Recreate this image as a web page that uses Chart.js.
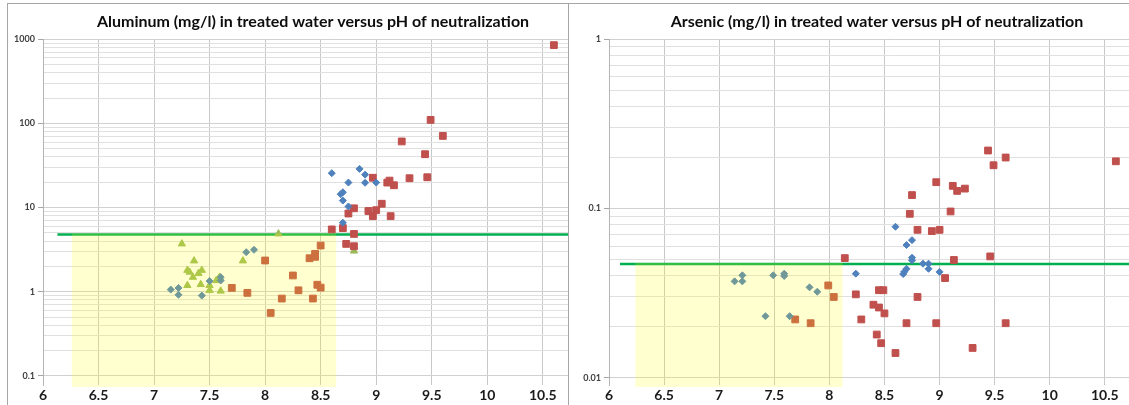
<!DOCTYPE html>
<html>
<head>
<meta charset="utf-8">
<script src="https://cdn.jsdelivr.net/npm/chart.js@4.4.1/dist/chart.umd.min.js"></script>
<style>
  html, body { margin: 0; overflow: hidden; background: #fff; }
  body { width: 1129px; height: 405px; position: relative; }
  .panel { position: absolute; top: 3px; height: 420px; border: 1px solid #a6a6a6; overflow: hidden; background: #fff; }
  #alPanel { left: 7px; width: 560px; }
  #asPanel { left: 568px; width: 620px; }
  canvas { position: absolute; left: 0; top: 0; }
</style>
</head>
<body>
<div class="panel" id="alPanel"><canvas id="alChart" width="610" height="401"></canvas></div>
<div class="panel" id="asPanel"><canvas id="asChart" width="616" height="401"></canvas></div>
<script>
// Aluminum (mg/l) vs pH
const alDiamondPH = [7.15, 7.22, 7.22, 7.43, 7.50, 7.60, 7.60, 7.83, 7.90,
    8.60, 8.85, 8.90, 8.75, 8.90, 9.00, 8.68, 8.70, 8.70, 8.75, 8.70];
const alDiamondMg = [1.06, 1.11, 0.92, 0.90, 1.34, 1.49, 1.36, 2.95, 3.15,
    25.6, 28.8, 24.6, 19.8, 19.7, 19.8, 14.4, 15.2, 12.1, 10.3, 6.6];

const alSquarePH = [8.00, 7.70, 7.84, 8.05, 8.15, 8.25, 8.30, 8.40, 8.45, 8.45, 8.50, 8.43, 8.47, 8.50,
    8.60, 8.70, 8.73, 8.80, 8.80, 8.75, 8.80, 8.93, 8.97, 9.00, 9.05, 8.97, 9.10, 9.12, 9.16,
    9.13, 9.23, 9.30, 9.44, 9.46, 9.49, 9.60, 10.60];
const alSquareMg = [2.35, 1.11, 0.97, 0.56, 0.83, 1.56, 1.04, 2.50, 2.82, 2.60, 3.54, 0.83, 1.21, 1.12,
    5.5, 5.7, 3.70, 3.47, 4.86, 8.5, 9.8, 9.1, 7.9, 9.3, 11.1, 22.6, 19.8, 20.9, 18.4,
    7.9, 61, 22.3, 43, 22.9, 110, 71, 850];

const alTrianglePH = [7.25, 8.12, 7.36, 7.80, 7.30, 7.32, 7.43, 7.40, 7.35, 7.59, 7.56, 7.30, 7.42, 7.50, 7.50, 7.60, 8.80];
const alTriangleMg = [3.71, 4.88, 2.33, 2.33, 1.80, 1.71, 1.80, 1.65, 1.49, 1.49, 1.36, 1.19, 1.22, 1.19, 1.04, 1.02, 3.05];

const alYTicks = [0.1, 1, 10, 100, 1000];
const alLimit = 4.8;           // green limit line
const alLimitStart = 6.13;
const alBoxPH = [6.26, 8.64];  // yellow target zone

// Arsenic (mg/l) vs pH
const asDiamondPH = [7.14, 7.21, 7.21, 7.42, 7.49, 7.59, 7.59, 7.64, 7.82, 7.89, 8.24,
    8.60, 8.75, 8.70, 8.75, 8.75, 8.85, 8.90, 8.90, 8.70, 8.68, 8.67, 9.00];
const asDiamondMg = [0.0371, 0.0403, 0.0371, 0.0231, 0.0403, 0.0412, 0.0399, 0.0231, 0.0342, 0.0322, 0.0412,
    0.078, 0.065, 0.0608, 0.0512, 0.0494, 0.0472, 0.0472, 0.044, 0.044, 0.0423, 0.041, 0.0422];

const asSquarePH = [7.99, 8.04, 7.69, 7.83, 8.14, 8.24, 8.29,
    9.44, 9.60, 9.49, 10.60, 8.97, 9.12, 9.16, 9.23, 8.75, 8.73, 9.10, 8.80, 8.93, 9.00,
    9.13, 9.46, 9.05, 8.80, 8.45, 8.49, 8.40, 8.45, 8.50, 8.70, 8.97, 9.60, 8.43, 8.47, 8.60, 9.30];
const asSquareMg = [0.0351, 0.030, 0.0221, 0.0210, 0.0509, 0.0311, 0.0221,
    0.220, 0.200, 0.180, 0.190, 0.143, 0.136, 0.127, 0.131, 0.120, 0.093, 0.096, 0.0748, 0.0735, 0.0748,
    0.0496, 0.0521, 0.0388, 0.030, 0.0329, 0.0329, 0.0270, 0.0260, 0.0240, 0.0210, 0.0210, 0.0210, 0.0180, 0.0160, 0.0140, 0.0150];

const asYTicks = [0.01, 0.1, 1];
const asLimit = 0.047;
const asLimitStart = 6.10;
const asBoxPH = [6.24, 8.12];

const BLUE = '#4F81BD';
const RED = '#C0504D';
const GREEN = '#9BBB59';
const LIMIT_GREEN = '#00B050';

function toPoints(xs, ys) {
    return xs.map((x, i) => ({x: x, y: ys[i]}));
}

// translucent yellow zone drawn over the points, like the Excel shape
const shadeBox = {
    id: 'shadeBox',
    afterDatasetsDraw(chart, args, opts) {
        const {ctx, chartArea, scales} = chart;
        const left = scales.x.getPixelForValue(opts.from);
        const right = scales.x.getPixelForValue(opts.to);
        const top = scales.y.getPixelForValue(opts.top) - 1;
        ctx.save();
        ctx.fillStyle = 'rgba(255, 255, 0, 0.19)';
        ctx.fillRect(left, top, right - left, chartArea.bottom + 2 - top);
        ctx.restore();
    }
};

function makeChart(id, cfg) {
    const datasets = cfg.series.map(s => ({
        type: 'scatter',
        data: toPoints(s.x, s.y),
        pointStyle: s.style,
        pointRadius: s.radius,
        pointBackgroundColor: s.color,
        pointBorderColor: s.color,
        pointBorderWidth: 1,
        showLine: false
    }));
    datasets.push({
        type: 'line',
        data: [{x: cfg.limitStart, y: cfg.limit}, {x: cfg.xMax, y: cfg.limit}],
        borderColor: LIMIT_GREEN,
        borderWidth: 2.5,
        pointRadius: 0
    });

    const isMajor = v => cfg.yTicks.some(t => Math.abs(t - v) < t * 1e-6);

    return new Chart(document.getElementById(id), {
        type: 'scatter',
        data: { datasets: datasets },
        plugins: [shadeBox],
        options: {
            responsive: false,
            animation: false,
            layout: { padding: 0 },
            scales: {
                x: {
                    type: 'linear',
                    min: 6,
                    max: cfg.xMax,
                    afterBuildTicks: axis => {
                        axis.ticks = axis.ticks.filter(t => t.value <= 10.5 + 1e-9 &&
                            Math.abs(t.value * 2 - Math.round(t.value * 2)) < 1e-9);
                    },
                    afterFit: axis => { axis.height = 20; },
                    ticks: {
                        stepSize: 0.5,
                        autoSkip: false,
                        maxRotation: 0,
                        padding: 2,
                        color: '#1A1A1A',
                        font: { family: 'Lato', size: 14, weight: 'bold' },
                        callback: v => String(Math.round(v * 10) / 10)
                    },
                    grid: { color: '#C8C8C8', drawTicks: false },
                    border: { display: false }
                },
                y: {
                    type: 'logarithmic',
                    min: cfg.yMin,
                    max: cfg.yTicks[cfg.yTicks.length - 1],
                    afterBuildTicks: axis => {
                        const ticks = [];
                        cfg.yTicks.forEach((v, i) => {
                            if (i < cfg.yTicks.length - 1) {
                                for (let k = 1; k < 10; k++) ticks.push({value: v * k});
                            } else {
                                ticks.push({value: v});
                            }
                        });
                        axis.ticks = ticks;
                    },
                    afterFit: axis => { axis.width = cfg.yWidth; },
                    ticks: {
                        autoSkip: false,
                        padding: 3,
                        color: '#404040',
                        font: { family: 'Lato', size: 9, weight: 'bold' },
                        callback: v => isMajor(v) ? String(v) : ''
                    },
                    grid: {
                        color: c => isMajor(c.tick.value) ? '#D0D0D0' : '#E0E0E0',
                        tickColor: c => isMajor(c.tick.value) ? '#A6A6A6' : 'rgba(0,0,0,0)',
                        tickLength: 5
                    },
                    border: { color: '#B4B4B4' }
                }
            },
            plugins: {
                legend: { display: false },
                tooltip: { enabled: false },
                title: {
                    display: true,
                    text: cfg.title,
                    color: '#0D0D0D',
                    font: { family: 'Lato', size: 16, weight: 'bold' },
                    padding: { top: 8, bottom: 8 }
                },
                shadeBox: { from: cfg.box[0], to: cfg.box[1], top: cfg.limit }
            }
        }
    });
}

makeChart('alChart', {
    title: 'Aluminum (mg/l) in treated water versus pH of neutralization',
    series: [
        { x: alDiamondPH, y: alDiamondMg, style: 'rectRot', radius: 3.5, color: BLUE },
        { x: alSquarePH, y: alSquareMg, style: 'rect', radius: 4.8, color: RED },
        { x: alTrianglePH, y: alTriangleMg, style: 'triangle', radius: 4.2, color: GREEN }
    ],
    yTicks: alYTicks,
    yMin: 0.078,
    yWidth: 35,
    xMax: 11.125,
    limit: alLimit,
    limitStart: alLimitStart,
    box: alBoxPH
});

makeChart('asChart', {
    title: 'Arsenic (mg/l) in treated water versus pH of neutralization',
    series: [
        { x: asDiamondPH, y: asDiamondMg, style: 'rectRot', radius: 3.5, color: BLUE },
        { x: asSquarePH, y: asSquareMg, style: 'rect', radius: 4.8, color: RED }
    ],
    yTicks: asYTicks,
    yMin: 0.00906,
    yWidth: 40,
    xMax: 11.175,
    limit: asLimit,
    limitStart: asLimitStart,
    box: asBoxPH
});
</script>
</body>
</html>
